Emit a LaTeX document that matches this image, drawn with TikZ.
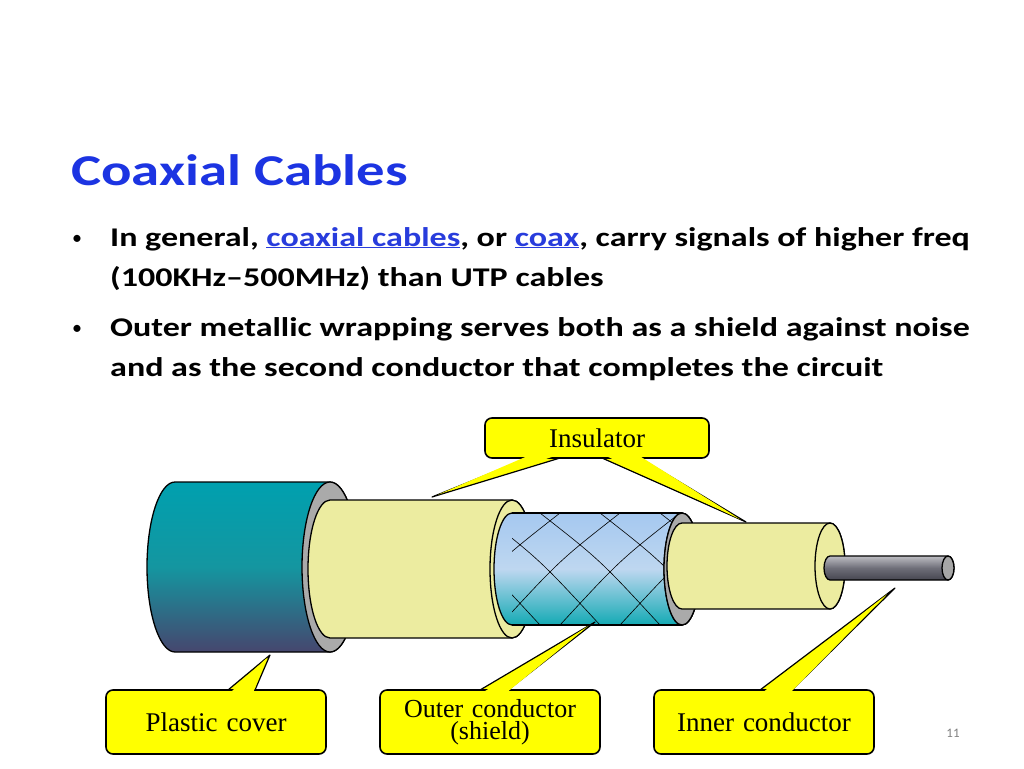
\documentclass[tikz,border=0pt]{standalone}
\usepackage{fontspec}
\usetikzlibrary{calc}
\setmainfont{Carlito}
\newfontfamily\serifl{Liberation Serif}
\definecolor{ttl}{RGB}{28,52,226}
\definecolor{lnk}{RGB}{40,60,220}
\definecolor{callout}{RGB}{255,255,0}
\definecolor{cream}{RGB}{236,236,160}
\definecolor{ringgray}{RGB}{170,170,170}
\tikzset{
  body/.style={anchor=base west,font=\bfseries\fontsize{27}{32}\selectfont,inner sep=0},
  lbl/.style={draw=black,line width=1.6pt,fill=callout,rounded corners=7pt,minimum height=64pt,font=\serifl\fontsize{27}{24}\selectfont,align=center,inner sep=2pt,text width=216pt},
  ptr/.style={fill=callout,draw=black,line width=1.2pt,line join=round},
  outl/.style={draw=black,line width=1.3pt},
}
\newcommand{\wide}[1]{\scalebox{1.26}[1]{#1}}
\newcommand{\cyl}[7]{% x0 x1 c ry rx style facestyle
  \path[#6] (#1,#3-#4) -- (#2,#3-#4) arc[start angle=-90,end angle=90,x radius=#5,y radius=#4] -- (#1,#3+#4) arc[start angle=90,end angle=270,x radius=#5,y radius=#4] -- cycle;
  \path[#7] (#2,#3) ellipse[x radius=#5,y radius=#4];}
\begin{document}
\begin{tikzpicture}[x=1pt,y=-1pt]
\useasboundingbox (0,0) rectangle (1024,768);
\fill[white] (0,0) rectangle (1024,768);
\node[anchor=base west,inner sep=0,text=ttl,font=\bfseries\fontsize{44}{50}\selectfont] (title) at (71,185) {\scalebox{1.29}[1]{Coaxial Cables}};
\node[anchor=base west,inner sep=0,font=\fontsize{20}{20}\selectfont] (b1) at (72,244) {•};
\node[body] (l1) at (110,246) {\wide{In general, \textcolor{lnk}{\underline{coaxial cables}}, or \textcolor{lnk}{\underline{coax}}, carry signals of higher freq}};
\node[body] (l2) at (110,286) {\wide{(100KHz–500MHz) than UTP cables}};
\node[anchor=base west,inner sep=0,font=\fontsize{20}{20}\selectfont] (b2) at (72,334) {•};
\node[body] (l3) at (110,336) {\wide{Outer metallic wrapping serves both as a shield against noise}};
\node[body] (l4) at (110,376) {\wide{and as the second conductor that completes the circuit}};
% cable
\cyl{175}{330}{567}{85}{28}{top color={rgb,255:red,0;green,160;blue,175},bottom color={rgb,255:red,70;green,70;blue,110},middle color={rgb,255:red,20;green,150;blue,160},outl}{fill=ringgray,outl}
\cyl{330}{512}{569}{69}{22}{fill=cream,outl}{fill=cream,outl}
\cyl{512}{682}{569}{56}{18}{top color={rgb,255:red,165;green,200;blue,240},bottom color={rgb,255:red,20;green,170;blue,180},middle color={rgb,255:red,190;green,215;blue,240},outl}{fill=ringgray,outl}
\begin{scope}
\clip (512,513) rectangle (682,625);
\foreach \s in {-200,-140,...,200}{
  \draw[line width=0.6pt] (500+\s,513) .. controls (560+\s,560) .. (620+\s,625);
  \draw[line width=0.6pt] (700+\s,513) .. controls (640+\s,560) .. (580+\s,625);}
\end{scope}
\path[outl] (512,513) -- (682,513) (512,625) -- (682,625);
\path[fill=ringgray,outl] (682,569) ellipse[x radius=18,y radius=56];
\cyl{682}{830}{566}{43}{15}{fill=cream,outl}{fill=cream,outl}
\cyl{830}{948}{568}{12}{6}{top color={rgb,255:red,190;green,190;blue,195},bottom color={rgb,255:red,70;green,70;blue,80},middle color={rgb,255:red,110;green,110;blue,120},outl}{fill=gray!70,outl}
% callouts
\coordinate (tI1) at (432,497);
\coordinate (tI2) at (746,522);
\coordinate (tP) at (270,655);
\coordinate (tO) at (595,622);
\coordinate (tN) at (895,588);
\draw[ptr] (528,458) -- (tI1) -- (560,458);
\draw[ptr] (602,458) -- (tI2) -- (640,458);
\draw[ptr] (228,690) -- (tP) -- (255,690);
\draw[ptr] (480,690) -- (tO) -- (508,690);
\draw[ptr] (760,690) -- (tN) -- (792,690);
\node[lbl,minimum height=40pt,text width=220pt] (ins) at (597,438) {Insulator};
\node[lbl] (plc) at (216,722) {Plastic cover};
\node[lbl,font=\serifl\fontsize{26}{22}\selectfont] (outc) at (490,722) {Outer conductor\\(shield)};
\node[lbl] (innc) at (764,722) {Inner conductor};
\fill[callout] (530,455) -- ($(tI1)!0.06!(530,458)$) -- (558,455) -- cycle;
\fill[callout] (604,455) -- ($(tI2)!0.04!(604,458)$) -- (638,455) -- cycle;
\fill[callout] (230,693) -- ($(tP)!0.08!(230,690)$) -- (253,693) -- cycle;
\fill[callout] (482,693) -- ($(tO)!0.06!(482,690)$) -- (506,693) -- cycle;
\fill[callout] (762,693) -- ($(tN)!0.06!(762,690)$) -- (790,693) -- cycle;
\node[text=gray,font=\fontsize{13}{13}\selectfont] (pg) at (953,733) {11};
\end{tikzpicture}
\end{document}
